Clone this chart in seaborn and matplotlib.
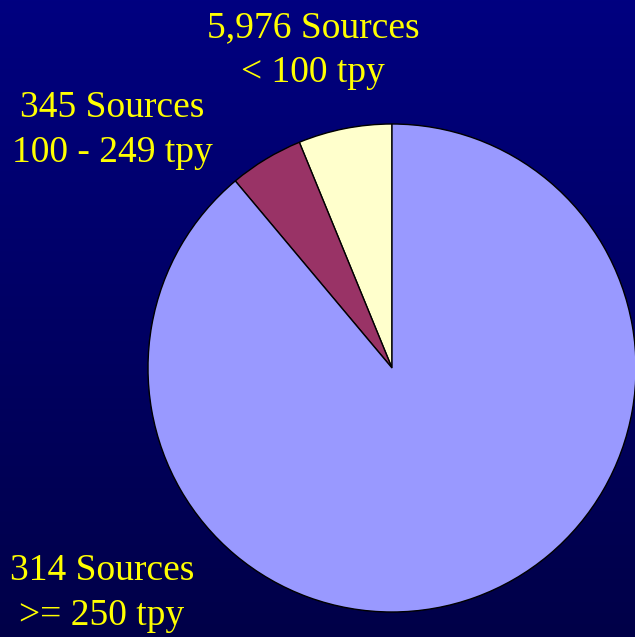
import numpy as np
import matplotlib
matplotlib.use("Agg")
import matplotlib.pyplot as plt
import seaborn as sns

# share of emissions by source size class
shares = [6.2, 4.9, 88.9]
labels = ["5,976 Sources\n< 100 tpy", "345 Sources\n100 - 249 tpy", "314 Sources\n>= 250 tpy"]
colors = ["#FFFFCC", "#993366", "#9999FF"]

sns.set_style("white")
plt.rcParams['font.family'] = ['Liberation Serif', 'DejaVu Serif']

W, H = 635, 637
fig = plt.figure(figsize=(W / 100, H / 100), dpi=100)
ax = fig.add_axes([0, 0, 1, 1])
ax.set_xlim(0, W)
ax.set_ylim(0, H)
ax.axis("off")

# navy gradient background, darker towards the bottom
bg = sns.blend_palette(["#000048", "#000080"], n_colors=256, as_cmap=True)
grad = np.linspace(0, 1, 256).reshape(-1, 1)
ax.imshow(grad, cmap=bg, extent=[0, W, 0, H], origin="lower", aspect="auto", zorder=0)

ax.pie(shares, colors=colors, startangle=90, counterclock=True,
       center=(392, 269), radius=244,
       wedgeprops=dict(edgecolor="black", linewidth=1))
ax.set_xlim(0, W)
ax.set_ylim(0, H)
ax.set_aspect("auto")

label_pos = [(313, 587), (112, 507), (102, 44)]
for (x, y), t in zip(label_pos, labels):
    ax.text(x, y, t, ha="center", va="center", color="#FFFF00",
            fontsize=27, linespacing=1.38, zorder=5)

fig.savefig("out.png", dpi=100, facecolor="#000080")
